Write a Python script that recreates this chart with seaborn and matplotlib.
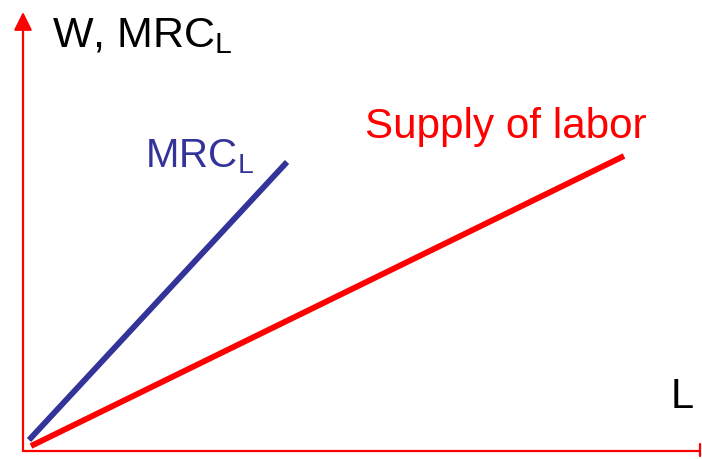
import matplotlib
matplotlib.use("Agg")
import matplotlib.pyplot as plt
import seaborn as sns
import pandas as pd

# Data (units measured from the origin of the drawn axes)
mrc_L = [6, 264]
mrc_W = [11, 289]
supply_L = [8, 601]
supply_W = [5, 295]

y_label = r"W, MRC$_{\mathrm{L}}$"
mrc_label = r"MRC$_{\mathrm{L}}$"
supply_label = "Supply of labor"
x_label = "L"

sns.set_style("white")
plt.rcParams["font.family"] = ["Liberation Sans", "DejaVu Sans"]
plt.rcParams["mathtext.fontset"] = "custom"
plt.rcParams["mathtext.rm"] = "Liberation Sans"
plt.rcParams["mathtext.it"] = "Liberation Sans"
plt.rcParams["mathtext.bf"] = "Liberation Sans"

fig = plt.figure(figsize=(7.02, 4.60), dpi=100)
ax = fig.add_axes([0, 0, 1, 1])
ax.set_xlim(-23, 679)
ax.set_ylim(-8, 452)
ax.axis("off")

red = "#ff0000"
blue = "#333399"

mrc_df = pd.DataFrame({"L": mrc_L, "W": mrc_W})
sup_df = pd.DataFrame({"L": supply_L, "W": supply_W})
sns.lineplot(data=mrc_df, x="L", y="W", ax=ax, color=blue, linewidth=4.2,
             solid_capstyle="butt")
sns.lineplot(data=sup_df, x="L", y="W", ax=ax, color=red, linewidth=4.2,
             solid_capstyle="butt")

# axes with arrow
ax.plot([0, 0], [-1, 425], color=red, linewidth=1.6, solid_capstyle="butt")
ax.annotate("", xy=(0, 439), xytext=(0, 420),
            arrowprops=dict(arrowstyle="-|>,head_length=1.1,head_width=0.55",
                            color=red, lw=1.6, shrinkA=0, shrinkB=0))
ax.plot([0, 677], [0, 0], color=red, linewidth=1.6, solid_capstyle="butt")
ax.plot([677, 677], [-5, 7], color=red, linewidth=1.6)

ax.text(29, 405, y_label, fontsize=31, color="black", va="baseline", ha="left")
ax.text(122, 285, mrc_label, fontsize=29, color=blue, va="baseline", ha="left")
ax.text(342, 314, supply_label, fontsize=30.3, color=red, va="baseline", ha="left")
ax.text(648, 44, x_label, fontsize=30, color="black", va="baseline", ha="left")

fig.savefig("out.png", dpi=100)
